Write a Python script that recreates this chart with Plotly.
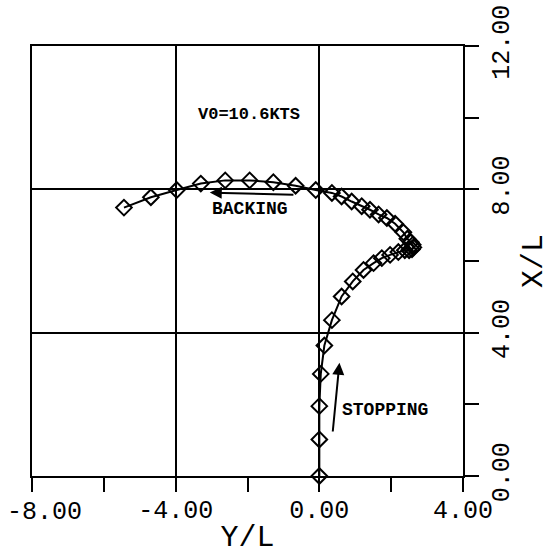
import plotly.graph_objects as go

# Trajectory: Y/L (horizontal) and X/L (vertical)
y_over_l = [0.0, 0.0, 0.0, 0.04, 0.14, 0.35, 0.62, 0.93, 1.23, 1.51, 1.74, 1.97,
            2.2, 2.38, 2.5, 2.58, 2.62, 2.6, 2.55, 2.45, 2.34, 2.11, 1.88, 1.65,
            1.41, 1.18, 0.9, 0.62, 0.35, -0.1, -0.66, -1.28, -1.94, -2.62,
            -3.3, -3.97, -4.69, -5.44]
x_over_l = [0.0, 1.02, 1.95, 2.85, 3.64, 4.35, 5.01, 5.43, 5.75, 5.94, 6.08, 6.17,
            6.25, 6.3, 6.3, 6.33, 6.38, 6.45, 6.52, 6.62, 6.8, 7.04, 7.2, 7.3,
            7.43, 7.53, 7.66, 7.8, 7.9, 7.98, 8.1, 8.2, 8.25, 8.25,
            8.16, 7.98, 7.78, 7.49]

x_tickvals = [-8, -4, 0, 4]
x_ticktext = ["-8.00", "-4.00", "0.00", "4.00"]
x_minor = [-6, -2, 2]
y_tickvals = [0, 4, 8, 12]
y_ticktext = ["0.00", "4.00", "8.00", "12.00"]
y_minor = [2, 6, 10]

MONO = "Liberation Mono, DejaVu Sans Mono, monospace"
TICKFONT = dict(family=MONO, size=25, color="black")

fig = go.Figure()
fig.add_trace(go.Scatter(
    x=y_over_l, y=x_over_l, mode="lines+markers",
    line=dict(color="black", width=2),
    marker=dict(symbol="diamond-open", size=12, color="black",
                line=dict(color="black", width=2)),
    showlegend=False, hoverinfo="skip", cliponaxis=False))

axis_common = dict(
    showline=True, mirror=True, linecolor="black", linewidth=2,
    showgrid=True, gridcolor="black", gridwidth=2,
    zeroline=False, ticks="outside", ticklen=14, tickwidth=2, tickcolor="black",
    tickfont=TICKFONT,
    ticklabeloverflow="allow",
)

# first x tick label is drawn separately (shifted inward so it stays on the page)
x_ticktext_axis = [""] + x_ticktext[1:]

fig.update_xaxes(
    range=[-8, 4], tickmode="array", tickvals=x_tickvals, ticktext=x_ticktext_axis,
    minor=dict(tickmode="array", tickvals=x_minor, ticks="outside", ticklen=14,
               tickwidth=2, tickcolor="black", showgrid=False),
    ticklabelstandoff=-4,
    title=dict(text="Y/L", font=dict(family=MONO, size=30, color="black"), standoff=12),
    **axis_common)
fig.update_yaxes(
    range=[0, 12], side="right", tickangle=-90,
    tickmode="array", tickvals=y_tickvals, ticktext=y_ticktext,
    minor=dict(tickmode="array", tickvals=y_minor, ticks="outside", ticklen=14,
               tickwidth=2, tickcolor="black", showgrid=False),
    title=dict(text="X/L", font=dict(family=MONO, size=30, color="black"), standoff=10),
    **axis_common)

fig.add_annotation(x=x_tickvals[0], y=0, xref="x", yref="paper", text=x_ticktext[0],
                   showarrow=False, xanchor="left", yanchor="middle",
                   xshift=-27, yshift=-36, font=TICKFONT)

ann_font = dict(family=MONO, size=18, color="black")
fig.add_annotation(x=-1.95, y=10.09, text="<b>V0=10.6KTS</b>", showarrow=False,
                   font=dict(family=MONO, size=17, color="black"))
fig.add_annotation(x=-1.93, y=7.44, text="<b>BACKING</b>", showarrow=False, font=ann_font)
fig.add_annotation(x=1.84, y=1.84, text="<b>STOPPING</b>", showarrow=False, font=ann_font)
# arrows
fig.add_annotation(x=-3.05, y=7.91, ax=-0.68, ay=7.85, axref="x", ayref="y",
                   xref="x", yref="y", text="", showarrow=True,
                   arrowhead=2, arrowsize=1.2, arrowwidth=2, arrowcolor="black")
fig.add_annotation(x=0.56, y=3.16, ax=0.37, ay=1.2, axref="x", ayref="y",
                   xref="x", yref="y", text="", showarrow=True,
                   arrowhead=2, arrowsize=1.2, arrowwidth=2, arrowcolor="black")

fig.update_layout(
    width=551, height=555,
    margin=dict(l=32, r=88, t=46, b=79, autoexpand=False),
    paper_bgcolor="white", plot_bgcolor="white",
)

fig.write_html("out.html")
